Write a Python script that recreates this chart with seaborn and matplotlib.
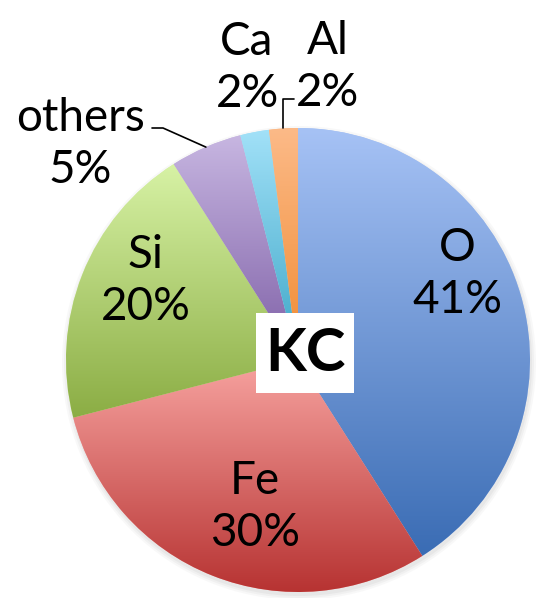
import numpy as np
import matplotlib
matplotlib.use("Agg")
import matplotlib.pyplot as plt
import seaborn as sns
from matplotlib.colors import LinearSegmentedColormap
from matplotlib.patches import Rectangle, Circle

sns.set_theme(style="white")
plt.rcParams["font.family"] = ["Lato", "DejaVu Sans"]

# данные
elements = ["O", "Fe", "Si", "others", "Ca", "Al"]
shares = [41, 30, 20, 5, 2, 2]
top_colors = ["#A6C2F5", "#F7A3A0", "#D7F2A5", "#C7B6E1", "#A2E1F8", "#FCBA88"]
bottom_colors = ["#3A6CB4", "#B73332", "#8BAD44", "#7E5FA6", "#3BA5C6", "#F08A30"]

W, H = 539, 598
def py(y):  # пиксели сверху -> координаты снизу
    return H - y

fig = plt.figure(figsize=(W / 100, H / 100), dpi=100)
ax = fig.add_axes([0, 0, 1, 1])

cx, cy, r = 298, py(360), 232

# лёгкая тень
for k, a in enumerate([0.05, 0.06, 0.08]):
    ax.add_patch(Circle((cx + 1, cy - 3), r + 5 - 2 * k, facecolor="grey",
                        edgecolor="none", alpha=a, zorder=0))

wedges, _ = ax.pie(shares, startangle=90, counterclock=False, center=(cx, cy),
                   radius=r, frame=True, colors=top_colors,
                   wedgeprops=dict(linewidth=0, zorder=1))

# градиент в каждом секторе
grad = np.linspace(0, 1, 256).reshape(-1, 1)
for w, c_top, c_bot in zip(wedges, top_colors, bottom_colors):
    ext = w.get_path().get_extents()
    cmap = LinearSegmentedColormap.from_list("g", [c_bot, c_top])
    im = ax.imshow(grad, extent=(ext.x0, ext.x1, ext.y0, ext.y1), origin="lower",
                   cmap=cmap, aspect="auto", zorder=2, interpolation="bilinear")
    im.set_clip_path(w)

ax.set_xlim(0, W)
ax.set_ylim(0, H)
ax.set_aspect("equal")
ax.axis("off")

# подписи
label_pos = {"O": (457, 274), "Fe": (255, 507), "Si": (146, 281),
             "others": (80, 144), "Ca": (247, 68), "Al": (328, 67)}
for name, val in zip(elements, shares):
    x, y = label_pos[name]
    ax.text(x, py(y), f"{name}\n{val}%", ha="center", va="center",
            fontsize=33, color="black", linespacing=1.3, zorder=5)

# выноски
def edge_point(w):
    ang = np.deg2rad((w.theta1 + w.theta2) / 2)
    return cx + r * np.cos(ang), cy + r * np.sin(ang)

ex, ey = edge_point(wedges[3])
ax.plot([152, 163, ex], [py(128), py(128), ey], color="black", lw=1.2, zorder=4)
ex, ey = edge_point(wedges[5])
ax.plot([ex, ex, ex + 11], [ey, py(99), py(99)], color="black", lw=1.2, zorder=4)

# плашка KC
ax.add_patch(Rectangle((256, py(393)), 98, 80, facecolor="white", edgecolor="none", zorder=6))
ax.text(305, py(354), "KC", ha="center", va="center", fontsize=43,
        fontweight="bold", color="black", zorder=7)

fig.savefig("out.png", dpi=100)
